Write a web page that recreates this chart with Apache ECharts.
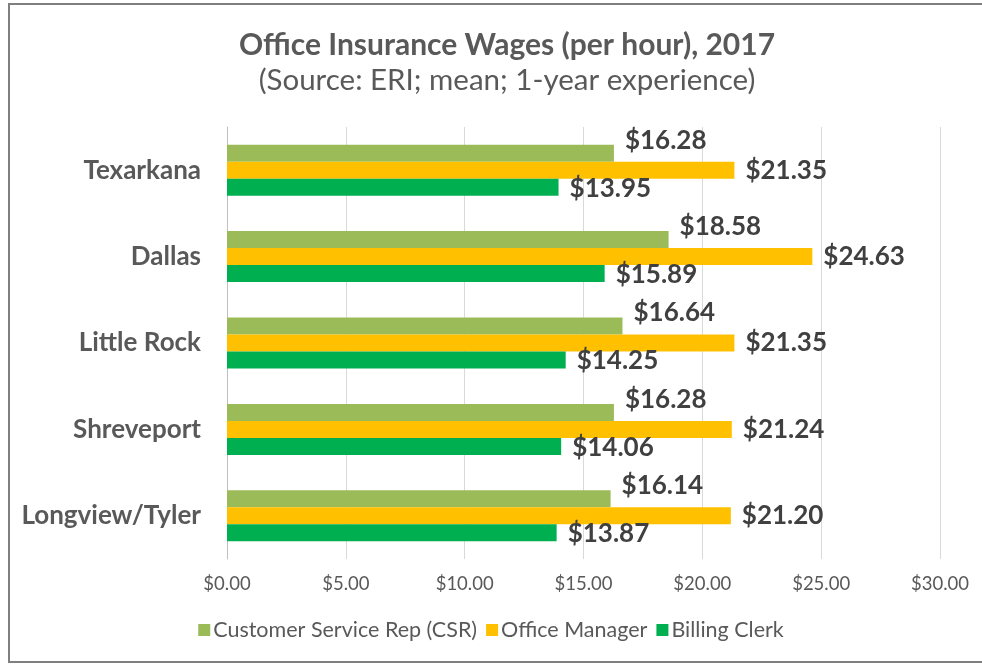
<!DOCTYPE html>
<html>
<head>
<meta charset="utf-8">
<script src="https://cdn.jsdelivr.net/npm/echarts@6/dist/echarts.min.js"></script>
<style>
  html, body { margin: 0; padding: 0; background: #fff; }
  #chart { width: 982px; height: 666px; }
</style>
</head>
<body>
<div id="chart"></div>
<script>
// 数据
var cities = ["Texarkana", "Dallas", "Little Rock", "Shreveport", "Longview/Tyler"];
var csr = [16.28, 18.58, 16.64, 16.28, 16.14];
var officeManager = [21.35, 24.63, 21.35, 21.24, 21.20];
var billingClerk = [13.95, 15.89, 14.25, 14.06, 13.87];
var seriesNames = ["Customer Service Rep (CSR)", "Office Manager", "Billing Clerk"];

var font = "Lato, 'Open Sans', sans-serif";
var textColor = "#595959";

function money(v) {
  return "$" + Number(v).toFixed(2);
}

var myChart = echarts.init(document.getElementById("chart"));

function label(offset) {
  return {
    show: true,
    position: "right",
    distance: 11,
    offset: offset,
    fontFamily: font,
    fontSize: 26,
    fontWeight: "bold",
    color: "#404040",
    formatter: function (p) { return money(p.value); }
  };
}

var option = {
  backgroundColor: "#fff",
  textStyle: { fontFamily: font },
  graphic: [
    {
      type: "rect",
      shape: { x: 9, y: 4, width: 990, height: 658 },
      style: { fill: "none", stroke: "#7f7f7f", lineWidth: 2 },
      silent: true
    }
  ],
  title: {
    text: "Office Insurance Wages (per hour), 2017",
    subtext: "(Source: ERI; mean; 1-year experience)",
    left: 502,
    textAlign: "center",
    top: 25,
    itemGap: 5,
    textStyle: { fontFamily: font, fontSize: 30, fontWeight: "bold", color: textColor },
    subtextStyle: { fontFamily: font, fontSize: 29.5, color: textColor }
  },
  legend: {
    data: seriesNames,
    bottom: 20,
    left: "center",
    itemWidth: 12,
    itemHeight: 12,
    itemGap: 9,
    icon: "rect",
    textStyle: { fontFamily: font, fontSize: 21.5, color: textColor, padding: [0, 0, 0, -2] }
  },
  grid: { left: 227, right: 42, top: 127, bottom: 107 },
  xAxis: {
    type: "value",
    min: 0,
    max: 30,
    interval: 5,
    axisLine: { show: false },
    axisTick: { show: false },
    splitLine: { lineStyle: { color: "#d9d9d9", width: 1 } },
    axisLabel: {
      margin: 16,
      fontFamily: font,
      fontSize: 18.5,
      color: textColor,
      formatter: function (v) { return money(v); }
    }
  },
  yAxis: {
    type: "category",
    data: cities,
    inverse: true,
    axisLine: { lineStyle: { color: "#bfbfbf" } },
    axisTick: { show: false },
    axisLabel: {
      margin: 26,
      fontFamily: font,
      fontSize: 26,
      fontWeight: "bold",
      color: textColor
    }
  },
  series: [
    {
      name: seriesNames[0],
      type: "bar",
      data: csr,
      barWidth: 17,
      barGap: "0%",
      itemStyle: { color: "#9BBB59" },
      label: label([0, -13])
    },
    {
      name: seriesNames[1],
      type: "bar",
      data: officeManager,
      barWidth: 17,
      barGap: "0%",
      itemStyle: { color: "#FFC000" },
      label: label([0, 0])
    },
    {
      name: seriesNames[2],
      type: "bar",
      data: billingClerk,
      barWidth: 17,
      barGap: "0%",
      itemStyle: { color: "#00B050" },
      label: label([0, 1])
    }
  ]
};

myChart.setOption(option);
window.onresize = function () {
  myChart.resize();
};
</script>
</body>
</html>
